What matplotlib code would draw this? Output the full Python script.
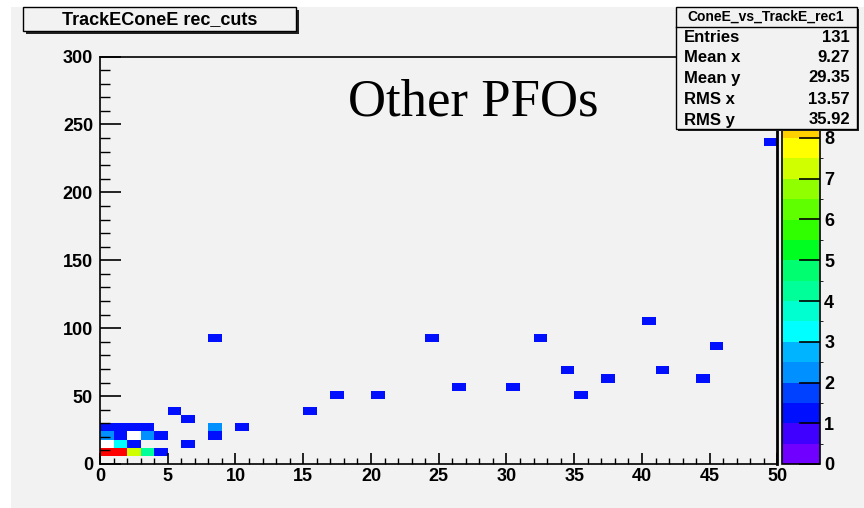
import numpy as np
import matplotlib
matplotlib.use("Agg")
import matplotlib.pyplot as plt
from matplotlib.colors import ListedColormap, BoundaryNorm
from matplotlib.patches import Rectangle
from matplotlib.ticker import MultipleLocator

# bin contents: (x bin low edge, y bin low edge, content)
x_low = [0, 1, 2, 3, 4,
         0, 1, 3, 4,
         1, 2,
         0, 1, 2, 3,
         5, 6, 6, 8, 8, 10,
         8, 24, 26, 17, 20, 15,
         30, 32, 34, 35, 37, 40, 41, 44, 45, 49]
y_low = [6, 6, 6, 6, 6,
         18, 18, 18, 18,
         12, 12,
         24, 24, 24, 24,
         36, 30, 12, 24, 18, 24,
         90, 90, 54, 48, 48, 36,
         54, 90, 66, 48, 60, 102, 66, 60, 84, 234]
content = [10, 10, 7, 4, 1,
           2, 1, 2, 1,
           3, 1,
           1, 1, 1, 1,
           1, 1, 1, 2, 1, 1,
           1, 1, 1, 1, 1, 1,
           1, 1, 1, 1, 1, 1, 1, 1, 1, 1]
# cells drawn white in the picture
white_x = [2, 0]
white_y = [18, 12]

stat_names = ["Entries", "Mean x", "Mean y", "RMS x", "RMS y"]
stat_values = ["131", "9.27", "29.35", "13.57", "35.92"]

# ROOT palette as seen on the colour axis, 20 levels from 0 to 10
palette = ["#7000ff", "#4000ff", "#0010ff", "#0040ff", "#0090ff",
           "#00b4ff", "#00ffff", "#00ffd0", "#00ff99", "#00ff70",
           "#00ff20", "#30ff00", "#60ff00", "#90ff00", "#d0ff00",
           "#ffff00", "#ffd000", "#ffa000", "#ff6000", "#ff0000"]

W, H = 864, 508
BG = "#f2f2f2"


def fx(x):
    return x / W


def fy(y):
    return 1 - y / H


x_edges = np.arange(0, 51, 1)
y_edges = np.arange(0, 301, 6)
hist, _, _ = np.histogram2d(np.array(x_low) + 0.5, np.array(y_low) + 3,
                            bins=[x_edges, y_edges], weights=content)
whist, _, _ = np.histogram2d(np.array(white_x) + 0.5, np.array(white_y) + 3,
                             bins=[x_edges, y_edges])

cmap = ListedColormap(palette).with_extremes(over=palette[-1])
levels = np.arange(0, 10.01, 0.5)
norm = BoundaryNorm(levels, cmap.N)

plt.rcParams["font.family"] = ["Liberation Sans", "DejaVu Sans"]
plt.rcParams["font.weight"] = "bold"

fig = plt.figure(figsize=(W / 100, H / 100), dpi=100, facecolor="white")
fig.patches.append(Rectangle((fx(11), 0), 1, fy(7), transform=fig.transFigure,
                             facecolor=BG, edgecolor="none", zorder=-5))

ax_l, ax_r, ax_t, ax_b = 100, 777.5, 56.5, 464
ax = fig.add_axes([fx(ax_l), fy(ax_b), fx(ax_r - ax_l), (ax_b - ax_t) / H])
ax.set_facecolor(BG)
ax.pcolormesh(x_edges, y_edges, np.ma.masked_equal(hist.T, 0), cmap=cmap, norm=norm)
ax.pcolormesh(x_edges, y_edges, np.ma.masked_equal(whist.T, 0),
              cmap=ListedColormap(["white"]), vmin=0, vmax=1)
ax.set_xlim(0, 50)
ax.set_ylim(0, 300)
ax.xaxis.set_major_locator(MultipleLocator(5))
ax.xaxis.set_minor_locator(MultipleLocator(1))
ax.yaxis.set_major_locator(MultipleLocator(50))
ax.yaxis.set_minor_locator(MultipleLocator(10))
ax.tick_params(axis="x", which="major", direction="in", length=8, width=1.2,
               labelsize=13, pad=3)
ax.tick_params(axis="x", which="minor", direction="in", length=4, width=1)
ax.tick_params(axis="y", which="major", direction="in", length=15, width=1.2,
               labelsize=13, pad=5)
ax.tick_params(axis="y", which="minor", direction="in", length=7, width=1)
for lab in ax.get_xticklabels() + ax.get_yticklabels():
    lab.set_fontweight("bold")
for s in ax.spines.values():
    s.set_linewidth(1.2)
ax.spines["right"].set_linewidth(2)

# colour axis (labels 9 and 10 sit under the stats box in the reference)
cax = fig.add_axes([fx(782), fy(ax_b), fx(38), (ax_b - ax_t) / H])
cb = fig.colorbar(matplotlib.cm.ScalarMappable(norm=norm, cmap=cmap), cax=cax,
                  ticks=range(0, 9))
cb.outline.set_linewidth(1.2)
cax.tick_params(direction="in", length=15, width=1.2, labelsize=13, pad=3)
for lab in cax.get_yticklabels():
    lab.set_fontweight("bold")


def shadow_box(x0, y0, x1, y1, sh=3):
    fig.patches.append(Rectangle((fx(x0 + sh), fy(y1 + sh)), fx(x1 - x0), (y1 - y0) / H,
                                 transform=fig.transFigure, facecolor="#222222",
                                 edgecolor="none", zorder=4))
    fig.patches.append(Rectangle((fx(x0), fy(y1)), fx(x1 - x0), (y1 - y0) / H,
                                 transform=fig.transFigure, facecolor=BG,
                                 edgecolor="black", linewidth=1, zorder=5))


# title box
shadow_box(23, 7, 296, 31)
fig.text(fx(160), fy(19.5), "TrackEConeE rec_cuts", ha="center", va="center",
         fontsize=13, fontweight="bold", zorder=6)

# stats box
shadow_box(676, 7, 857, 129, sh=2)
fig.lines.append(plt.Line2D([fx(676), fx(857)], [fy(27), fy(27)],
                            transform=fig.transFigure, color="black", lw=1, zorder=6))
fig.text(fx(766), fy(17), "ConeE_vs_TrackE_rec1", ha="center", va="center",
         fontsize=10, fontweight="bold", zorder=6)
row_y = [37, 57.5, 78, 100, 120]
for name, val, yy in zip(stat_names, stat_values, row_y):
    fig.text(fx(684), fy(yy), name, ha="left", va="center", fontsize=12,
             fontweight="bold", zorder=6)
    fig.text(fx(850), fy(yy), val, ha="right", va="center", fontsize=12,
             fontweight="bold", zorder=6)

fig.text(fx(348), fy(116), "Other PFOs", ha="left", va="baseline",
         fontsize=38, fontweight="normal", family="Liberation Serif", zorder=6)

fig.savefig("out.png", dpi=100, facecolor="white")
